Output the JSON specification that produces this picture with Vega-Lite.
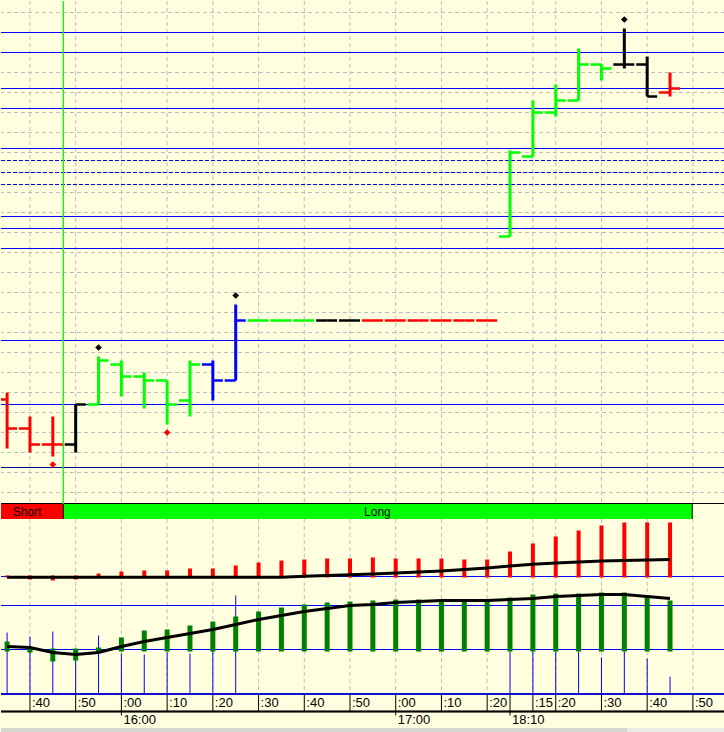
{
  "$schema": "https://vega.github.io/schema/vega-lite/v6.json",
  "background": "#FFFFE0",
  "padding": 0,
  "spacing": 0,
  "bounds": "flush",
  "config": {"view": {"stroke": null}, "concat": {"spacing": 0}},
  "datasets": {
    "bars": [
      {"i":0,"o":1018.25,"h":1020,"l":1006,"c":1011,"s":"down","rt":0.1,"rb":-0.1,"rl":-0.07,"gt":0.8,"gb":-0.2,"gl":0.3},
      {"i":1,"o":1011,"h":1014,"l":1005,"c":1007,"s":"down","rt":0.1,"rb":-0.3,"rl":-0.07,"gt":0.2,"gb":-0.3,"gl":0.2},
      {"i":2,"o":1007,"h":1014,"l":1004,"c":1007,"s":"down","rt":0.1,"rb":-0.4,"rl":-0.07,"gt":0.1,"gb":-1.2,"gl":-0.3},
      {"i":3,"o":1007,"h":1017,"l":1005,"c":1017,"s":"neutral","rt":0.1,"rb":-0.3,"rl":-0.07,"gt":0.1,"gb":-1.1,"gl":-0.5},
      {"i":4,"o":1017,"h":1029,"l":1017,"c":1028,"s":"up","rt":0.3,"rb":-0.1,"rl":-0.07,"gt":0.2,"gb":-0.3,"gl":-0.3},
      {"i":5,"o":1027,"h":1028,"l":1019,"c":1024,"s":"up","rt":0.5,"rb":-0.1,"rl":-0.07,"gt":1.2,"gb":-0.2,"gl":0.3},
      {"i":6,"o":1024,"h":1025,"l":1016,"c":1023,"s":"up","rt":0.6,"rb":-0.1,"rl":-0.07,"gt":1.9,"gb":-0.2,"gl":0.8},
      {"i":7,"o":1023,"h":1023,"l":1012,"c":1017,"s":"up","rt":0.6,"rb":-0.1,"rl":-0.07,"gt":2.0,"gb":-0.2,"gl":1.2},
      {"i":8,"o":1018,"h":1028,"l":1014,"c":1027,"s":"up","rt":0.8,"rb":-0.1,"rl":-0.07,"gt":2.4,"gb":-0.2,"gl":1.6},
      {"i":9,"o":1027,"h":1028,"l":1018,"c":1023,"s":"signal","rt":0.8,"rb":-0.1,"rl":-0.07,"gt":2.8,"gb":-0.2,"gl":2.0},
      {"i":10,"o":1023,"h":1042,"l":1023,"c":1038,"s":"signal","rt":1.1,"rb":-0.1,"rl":-0.07,"gt":3.3,"gb":-0.2,"gl":2.5},
      {"i":11,"o":1038,"h":1038,"l":1038,"c":1038,"s":"up","rt":1.4,"rb":-0.1,"rl":-0.07,"gt":3.8,"gb":-0.2,"gl":3.0},
      {"i":12,"o":1038,"h":1038,"l":1038,"c":1038,"s":"up","rt":1.6,"rb":-0.1,"rl":-0.07,"gt":4.2,"gb":-0.2,"gl":3.4},
      {"i":13,"o":1038,"h":1038,"l":1038,"c":1038,"s":"up","rt":1.7,"rb":-0.1,"rl":0.03,"gt":4.5,"gb":-0.2,"gl":3.8},
      {"i":14,"o":1038,"h":1038,"l":1038,"c":1038,"s":"neutral","rt":1.8,"rb":-0.1,"rl":0.1,"gt":4.7,"gb":-0.2,"gl":4.1},
      {"i":15,"o":1038,"h":1038,"l":1038,"c":1038,"s":"neutral","rt":1.8,"rb":-0.1,"rl":0.17,"gt":4.8,"gb":-0.2,"gl":4.4},
      {"i":16,"o":1038,"h":1038,"l":1038,"c":1038,"s":"down","rt":1.9,"rb":-0.1,"rl":0.25,"gt":4.9,"gb":-0.2,"gl":4.5},
      {"i":17,"o":1038,"h":1038,"l":1038,"c":1038,"s":"down","rt":1.8,"rb":-0.1,"rl":0.35,"gt":5.0,"gb":-0.2,"gl":4.7},
      {"i":18,"o":1038,"h":1038,"l":1038,"c":1038,"s":"down","rt":1.8,"rb":-0.1,"rl":0.45,"gt":5.0,"gb":-0.2,"gl":4.8},
      {"i":19,"o":1038,"h":1038,"l":1038,"c":1038,"s":"down","rt":1.8,"rb":-0.1,"rl":0.55,"gt":5.0,"gb":-0.2,"gl":4.9},
      {"i":20,"o":1038,"h":1038,"l":1038,"c":1038,"s":"down","rt":1.7,"rb":-0.1,"rl":0.7,"gt":5.0,"gb":-0.2,"gl":4.9},
      {"i":21,"o":1038,"h":1038,"l":1038,"c":1038,"s":"down","rt":1.7,"rb":-0.1,"rl":0.85,"gt":5.0,"gb":-0.2,"gl":4.9},
      {"i":22,"o":1059,"h":1080.5,"l":1059,"c":1080,"s":"up","rt":2.5,"rb":-0.1,"rl":1.05,"gt":5.2,"gb":-0.2,"gl":5.0},
      {"i":23,"o":1079,"h":1093,"l":1079,"c":1090,"s":"up","rt":3.3,"rb":-0.1,"rl":1.23,"gt":5.5,"gb":-0.2,"gl":5.1},
      {"i":24,"o":1090,"h":1097,"l":1089,"c":1093,"s":"up","rt":4.0,"rb":-0.1,"rl":1.35,"gt":5.6,"gb":-0.2,"gl":5.3},
      {"i":25,"o":1093,"h":1106,"l":1093,"c":1102,"s":"up","rt":4.6,"rb":-0.1,"rl":1.45,"gt":5.6,"gb":-0.2,"gl":5.4},
      {"i":26,"o":1102,"h":1102,"l":1098,"c":1101,"s":"up","rt":5.1,"rb":-0.1,"rl":1.55,"gt":5.7,"gb":-0.2,"gl":5.5},
      {"i":27,"o":1102,"h":1111,"l":1101,"c":1102,"s":"neutral","rt":5.4,"rb":-0.1,"rl":1.6,"gt":5.7,"gb":-0.2,"gl":5.5},
      {"i":28,"o":1102,"h":1104,"l":1094,"c":1094,"s":"neutral","rt":5.4,"rb":-0.1,"rl":1.65,"gt":5.4,"gb":-0.2,"gl":5.3},
      {"i":29,"o":1095,"h":1100,"l":1094,"c":1096,"s":"down","rt":5.4,"rb":-0.1,"rl":1.7,"gt":4.9,"gb":-0.2,"gl":5.1}
    ],
    "pivots": [
      {"i":2,"p":1002,"k":"low"},
      {"i":4,"p":1031.25,"k":"high"},
      {"i":7,"p":1010,"k":"low"},
      {"i":10,"p":1044.25,"k":"high"},
      {"i":27,"p":1113.25,"k":"high"}
    ],
    "levels": [{"p":1110},{"p":1105},{"p":1096},{"p":1091},{"p":1081},{"p":1064},{"p":1061},{"p":1056},{"p":1033},{"p":1017}],
    "dlevels": [{"p":1078},{"p":1075},{"p":1072}],
    "base": [{"p":1001.25}],
    "hgrid": [{"p":995},{"p":1000},{"p":1005},{"p":1010},{"p":1015},{"p":1020},{"p":1025},{"p":1030},{"p":1035},{"p":1040},{"p":1045},{"p":1050},{"p":1055},{"p":1060},{"p":1065},{"p":1070},{"p":1075},{"p":1080},{"p":1085},{"p":1090},{"p":1095},{"p":1100},{"p":1105},{"p":1110},{"p":1115}],
    "vgrid": [{"i":1},{"i":3},{"i":5},{"i":7},{"i":9},{"i":11},{"i":13},{"i":15},{"i":17},{"i":19},{"i":21},{"i":23},{"i":24},{"i":26},{"i":28},{"i":30}],
    "regime": [
      {"label":"Short","from":-0.267,"to":2.46,"mid":0.87,"side":"short"},
      {"label":"Long","from":2.46,"to":29.97,"mid":16.2,"side":"long"}
    ],
    "vol": [
      {"i":0,"v":1.7},{"i":1,"v":1.3},{"i":2,"v":1.8},{"i":3,"v":-1.0},{"i":4,"v":1.4},{"i":5,"v":-0.4},{"i":6,"v":-0.5},{"i":7,"v":-0.3},{"i":8,"v":-0.4},{"i":9,"v":-0.1},{"i":10,"v":5.4},
      {"i":22,"v":-0.2},{"i":23,"v":-0.2},{"i":24,"v":-0.2},{"i":25,"v":-0.2},{"i":26,"v":-0.8},{"i":27,"v":-0.2},{"i":28,"v":-0.9},{"i":29,"v":-2.7}
    ],
    "glev": [{"g":4.4},{"g":0}],
    "minute": [
      {"i":1,"t":":40"},{"i":3,"t":":50"},{"i":5,"t":":00"},{"i":7,"t":":10"},{"i":9,"t":":20"},{"i":11,"t":":30"},{"i":13,"t":":40"},{"i":15,"t":":50"},{"i":17,"t":":00"},{"i":19,"t":":10"},{"i":21,"t":":20"},{"i":22,"t":""},{"i":23,"t":":15"},{"i":24,"t":":20"},{"i":26,"t":":30"},{"i":28,"t":":40"},{"i":30,"t":":50"}
    ],
    "hour": [{"i":5,"t":"16:00"},{"i":17,"t":"17:00"},{"i":22,"t":"18:10"}]
  },
  "vconcat": [
    {
      "width": 724, "height": 503,
      "resolve": {"scale": {"color": "independent"}},
      "layer": [
        {"data": {"name": "hgrid"}, "mark": {"type": "rule", "stroke": "#BDBDBD", "strokeWidth": 1, "strokeDash": [4, 3]},
         "encoding": {"y": {"field": "p", "type": "quantitative", "scale": {"domain": [992.125, 1117.875], "nice": false, "zero": false}, "axis": null}}},
        {"data": {"name": "vgrid"}, "mark": {"type": "rule", "stroke": "#BDBDBD", "strokeWidth": 1, "strokeDash": [4, 3]},
         "encoding": {"x": {"field": "i", "type": "quantitative", "scale": {"domain": [-0.267, 31.404], "nice": false, "zero": false}, "axis": null}}},
        {"data": {"name": "levels"}, "mark": {"type": "rule", "stroke": "#0000FF", "strokeWidth": 1},
         "encoding": {"y": {"field": "p", "type": "quantitative"}}},
        {"data": {"name": "dlevels"}, "mark": {"type": "rule", "stroke": "#0000FF", "strokeWidth": 1, "strokeDash": [4, 2]},
         "encoding": {"y": {"field": "p", "type": "quantitative"}}},
        {"data": {"name": "base"}, "mark": {"type": "rule", "stroke": "#000090", "strokeWidth": 1},
         "encoding": {"y": {"field": "p", "type": "quantitative"}}},
        {"data": {"name": "base"}, "mark": {"type": "rule", "stroke": "#000000", "strokeWidth": 1},
         "encoding": {"y": {"datum": 992.25, "type": "quantitative"}}},
        {"data": {"name": "regime"}, "transform": [{"filter": "datum.side === 'long'"}],
         "mark": {"type": "rule", "stroke": "#00FF00", "strokeWidth": 1.3},
         "encoding": {"x": {"field": "from", "type": "quantitative"}}},
        {"data": {"name": "bars"}, "mark": {"type": "rule", "strokeWidth": 3},
         "encoding": {
           "x": {"field": "i", "type": "quantitative"},
           "y": {"field": "l", "type": "quantitative"},
           "y2": {"field": "h"},
           "color": {"field": "s", "type": "nominal", "scale": {"domain": ["down", "neutral", "up", "signal"], "range": ["#FF0000", "#000000", "#00FF00", "#0000FF"]}, "legend": null}}},
        {"data": {"name": "bars"}, "mark": {"type": "rule", "strokeWidth": 2.5, "xOffset": -11, "x2Offset": 0, "clip": true},
         "encoding": {
           "x": {"field": "i", "type": "quantitative"},
           "x2": {"field": "i"},
           "y": {"field": "o", "type": "quantitative"},
           "color": {"field": "s", "type": "nominal", "scale": {"domain": ["down", "neutral", "up", "signal"], "range": ["#FF0000", "#000000", "#00FF00", "#0000FF"]}, "legend": null}}},
        {"data": {"name": "bars"}, "mark": {"type": "rule", "strokeWidth": 2.5, "xOffset": 0, "x2Offset": 10},
         "encoding": {
           "x": {"field": "i", "type": "quantitative"},
           "x2": {"field": "i"},
           "y": {"field": "c", "type": "quantitative"},
           "color": {"field": "s", "type": "nominal", "scale": {"domain": ["down", "neutral", "up", "signal"], "range": ["#FF0000", "#000000", "#00FF00", "#0000FF"]}, "legend": null}}},
        {"data": {"name": "pivots"}, "mark": {"type": "point", "shape": "diamond", "filled": true, "size": 45, "opacity": 1},
         "encoding": {
           "x": {"field": "i", "type": "quantitative"},
           "y": {"field": "p", "type": "quantitative"},
           "color": {"field": "k", "type": "nominal", "scale": {"domain": ["high", "low"], "range": ["#000000", "#FF0000"]}, "legend": null}}}
      ]
    },
    {
      "width": 724, "height": 15,
      "layer": [
        {"data": {"name": "regime"}, "mark": {"type": "rect"},
         "encoding": {
           "x": {"field": "from", "type": "quantitative", "scale": {"domain": [-0.267, 31.404], "nice": false, "zero": false}, "axis": null},
           "x2": {"field": "to"},
           "color": {"field": "side", "type": "nominal", "scale": {"domain": ["short", "long"], "range": ["#FF0000", "#00FF00"]}, "legend": null}}},
        {"data": {"name": "regime"}, "mark": {"type": "rule", "stroke": "#000000", "strokeWidth": 1},
         "encoding": {"x": {"field": "to", "type": "quantitative"}}},
        {"data": {"name": "regime"}, "mark": {"type": "text", "font": "Liberation Sans", "fontSize": 12, "color": "#000000", "align": "center", "baseline": "middle"},
         "encoding": {"x": {"field": "mid", "type": "quantitative"}, "text": {"field": "label"}}}
      ]
    },
    {
      "width": 724, "height": 69,
      "layer": [
        {"data": {"name": "vgrid"}, "mark": {"type": "rule", "stroke": "#BDBDBD", "strokeWidth": 1, "strokeDash": [4, 3]},
         "encoding": {"x": {"field": "i", "type": "quantitative", "scale": {"domain": [-0.267, 31.404], "nice": false, "zero": false}, "axis": null}}},
        {"data": {"name": "glev"}, "mark": {"type": "rule", "stroke": "#0000FF", "strokeWidth": 1},
         "encoding": {"y": {"datum": 0, "type": "quantitative", "scale": {"domain": [-1.15, 5.75], "nice": false, "zero": false}, "axis": null}}},
        {"data": {"name": "bars"}, "mark": {"type": "rule", "stroke": "#FF0000", "strokeWidth": 4},
         "encoding": {
           "x": {"field": "i", "type": "quantitative"},
           "y": {"field": "rb", "type": "quantitative"},
           "y2": {"field": "rt"}}},
        {"data": {"name": "bars"}, "mark": {"type": "line", "stroke": "#000000", "strokeWidth": 3},
         "encoding": {
           "x": {"field": "i", "type": "quantitative"},
           "y": {"field": "rl", "type": "quantitative"}}}
      ]
    },
    {
      "width": 724, "height": 107,
      "layer": [
        {"data": {"name": "vgrid"}, "mark": {"type": "rule", "stroke": "#BDBDBD", "strokeWidth": 1, "strokeDash": [4, 3]},
         "encoding": {"x": {"field": "i", "type": "quantitative", "scale": {"domain": [-0.267, 31.404], "nice": false, "zero": false}, "axis": null}}},
        {"data": {"name": "glev"}, "mark": {"type": "rule", "stroke": "#0000FF", "strokeWidth": 1},
         "encoding": {"y": {"field": "g", "type": "quantitative", "scale": {"domain": [-4.55, 6.15], "nice": false, "zero": false}, "axis": null}}},
        {"data": {"name": "vol"}, "mark": {"type": "rule", "stroke": "#0000FF", "strokeWidth": 1},
         "encoding": {
           "x": {"field": "i", "type": "quantitative"},
           "y": {"field": "v", "type": "quantitative"},
           "y2": {"datum": -4.5}}},
        {"data": {"name": "glev"}, "mark": {"type": "rule", "stroke": "#0000CC", "strokeWidth": 1.5},
         "encoding": {"y": {"datum": -4.45, "type": "quantitative"}}},
        {"data": {"name": "bars"}, "mark": {"type": "rule", "stroke": "#008000", "strokeWidth": 5},
         "encoding": {
           "x": {"field": "i", "type": "quantitative"},
           "y": {"field": "gb", "type": "quantitative"},
           "y2": {"field": "gt"}}},
        {"data": {"name": "bars"}, "mark": {"type": "line", "stroke": "#000000", "strokeWidth": 3},
         "encoding": {
           "x": {"field": "i", "type": "quantitative"},
           "y": {"field": "gl", "type": "quantitative"}}}
      ]
    },
    {
      "width": 724, "height": 33,
      "layer": [
        {"data": {"name": "minute"}, "mark": {"type": "rule", "stroke": "#000000", "strokeWidth": 1},
         "encoding": {
           "x": {"field": "i", "type": "quantitative", "scale": {"domain": [-0.267, 31.404], "nice": false, "zero": false}, "axis": null},
           "y": {"datum": 2, "type": "quantitative", "scale": {"domain": [0, 2], "nice": false, "zero": false}, "axis": null},
           "y2": {"datum": 1}}},
        {"data": {"name": "hour"}, "mark": {"type": "rule", "stroke": "#000000", "strokeWidth": 1},
         "encoding": {
           "x": {"field": "i", "type": "quantitative"},
           "y": {"datum": 1, "type": "quantitative"},
           "y2": {"datum": 0.76}}},
        {"data": {"name": "hour"}, "mark": {"type": "rule", "stroke": "#000000", "strokeWidth": 1.5},
         "encoding": {"y": {"datum": 1, "type": "quantitative"}}},
        {"data": {"name": "minute"}, "mark": {"type": "text", "font": "Liberation Sans", "fontSize": 13, "color": "#000000", "align": "left", "baseline": "middle", "dx": 2},
         "encoding": {
           "x": {"field": "i", "type": "quantitative"},
           "y": {"datum": 1.5, "type": "quantitative"},
           "text": {"field": "t"}}},
        {"data": {"name": "hour"}, "mark": {"type": "text", "font": "Liberation Sans", "fontSize": 13, "color": "#000000", "align": "left", "baseline": "middle", "dx": 2},
         "encoding": {
           "x": {"field": "i", "type": "quantitative"},
           "y": {"datum": 0.5, "type": "quantitative"},
           "text": {"field": "t"}}}
      ]
    },
    {
      "width": 724, "height": 5,
      "layer": [
        {"data": {"name": "regime"}, "transform": [{"filter": "datum.side === 'short'"}], "mark": {"type": "rect", "color": "#D6D6D0"},
         "encoding": {
           "x": {"datum": -0.267, "type": "quantitative", "scale": {"domain": [-0.267, 31.404], "nice": false, "zero": false}, "axis": null},
           "x2": {"datum": 31.404}}},
        {"data": {"name": "regime"}, "transform": [{"filter": "datum.side === 'short'"}], "mark": {"type": "rect", "color": "#EBEBE6"},
         "encoding": {
           "x": {"datum": 27.12, "type": "quantitative"},
           "x2": {"datum": 31.404}}}
      ]
    }
  ]
}
